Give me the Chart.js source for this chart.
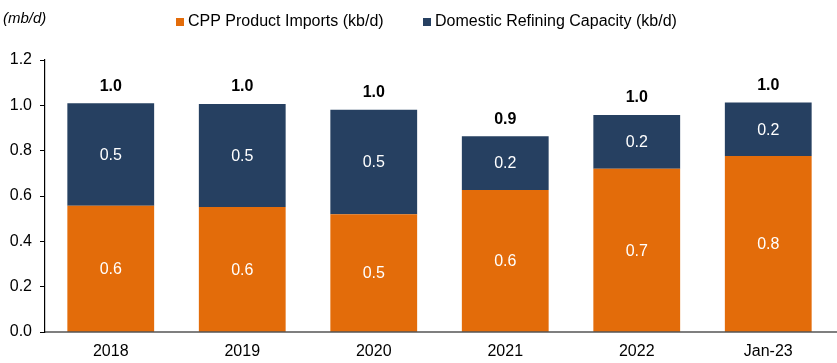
<!DOCTYPE html>
<html>
<head>
<meta charset="utf-8">
<script src="https://cdn.jsdelivr.net/npm/chart.js@4/dist/chart.umd.min.js"></script>
<style>
  html, body { margin: 0; padding: 0; background: #ffffff; }
  #wrap { width: 837px; height: 363px; position: relative; }
</style>
</head>
<body>
<div id="wrap"><canvas id="c" width="837" height="363"></canvas></div>
<script>
const categories = ["2018", "2019", "2020", "2021", "2022", "Jan-23"];
const cppImports = [0.557, 0.552, 0.520, 0.627, 0.720, 0.776];
const refiningCapacity = [0.452, 0.454, 0.460, 0.237, 0.237, 0.236];
const seriesNames = ["CPP Product Imports (kb/d)", "Domestic Refining Capacity (kb/d)"];
const yTicks = [0, 0.2, 0.4, 0.6, 0.8, 1.0, 1.2];
const unitLabel = "(mb/d)";

const ORANGE = "#E36C0A";
const NAVY = "#264061";
const FONT = "'Liberation Sans', Arial, sans-serif";

const labelPlugin = {
  id: "labels",
  afterDatasetsDraw(chart) {
    const ctx = chart.ctx;
    ctx.save();
    ctx.textAlign = "center";
    ctx.textBaseline = "middle";
    chart.data.datasets.forEach((ds, di) => {
      const meta = chart.getDatasetMeta(di);
      meta.data.forEach((bar, i) => {
        const v = ds.data[i];
        const midY = (bar.y + bar.base) / 2;
        ctx.font = "16px " + FONT;
        ctx.fillStyle = "#ffffff";
        ctx.fillText(v.toFixed(1), bar.x, midY + 1);
      });
    });
    const topMeta = chart.getDatasetMeta(1);
    topMeta.data.forEach((bar, i) => {
      const total = cppImports[i] + refiningCapacity[i];
      ctx.font = "bold 16px " + FONT;
      ctx.fillStyle = "#000000";
      ctx.fillText(total.toFixed(1), bar.x, bar.y - 17);
    });
    ctx.restore();
  },
  afterDraw(chart) {
    const ctx = chart.ctx;
    ctx.save();
    ctx.font = "italic 15px " + FONT;
    ctx.fillStyle = "#000000";
    ctx.textAlign = "left";
    ctx.textBaseline = "middle";
    ctx.fillText(unitLabel, 3, 19);
    ctx.font = "16px " + FONT;
    const colors = [ORANGE, NAVY];
    const boxX = [176, 423];
    seriesNames.forEach((name, k) => {
      ctx.fillStyle = colors[k];
      ctx.fillRect(boxX[k], 18, 8, 8);
      ctx.fillStyle = "#000000";
      ctx.fillText(name, boxX[k] + 12, 22);
    });
    const yb = chart.scales.y.getPixelForValue(0);
    ctx.strokeStyle = "#000000";
    ctx.lineWidth = 1.2;
    ctx.beginPath();
    ctx.moveTo(chart.chartArea.left, yb);
    ctx.lineTo(837, yb);
    ctx.stroke();
    ctx.restore();
  }
};

new Chart(document.getElementById("c"), {
  type: "bar",
  data: {
    labels: categories,
    datasets: [
      { label: seriesNames[0], data: cppImports, backgroundColor: ORANGE, categoryPercentage: 0.66, barPercentage: 1.0 },
      { label: seriesNames[1], data: refiningCapacity, backgroundColor: NAVY, categoryPercentage: 0.66, barPercentage: 1.0 }
    ]
  },
  options: {
    responsive: false,
    animation: false,
    devicePixelRatio: 1,
    layout: { padding: { top: 60, right: 3, left: 0, bottom: 0 } },
    plugins: {
      legend: { display: false },
      tooltip: { enabled: false }
    },
    scales: {
      x: {
        stacked: true,
        grid: { display: false, drawTicks: false },
        border: { display: false },
        ticks: { color: "#000000", font: { family: FONT, size: 16 }, padding: 10, maxRotation: 0 },
        afterFit(scale) { scale.height = 31; }
      },
      y: {
        stacked: true,
        min: 0,
        max: 1.2,
        afterBuildTicks(scale) { scale.ticks = yTicks.map(v => ({ value: v })); },
        grid: { drawOnChartArea: false, drawTicks: true, tickLength: 5, color: "#000000" },
        border: { display: true, color: "#000000", width: 1.2 },
        ticks: {
          color: "#000000",
          font: { family: FONT, size: 16 },
          padding: 8,
          callback: v => Number(v).toFixed(1)
        },
        afterFit(scale) { scale.width = 45; }
      }
    }
  },
  plugins: [labelPlugin]
});
</script>
</body>
</html>
